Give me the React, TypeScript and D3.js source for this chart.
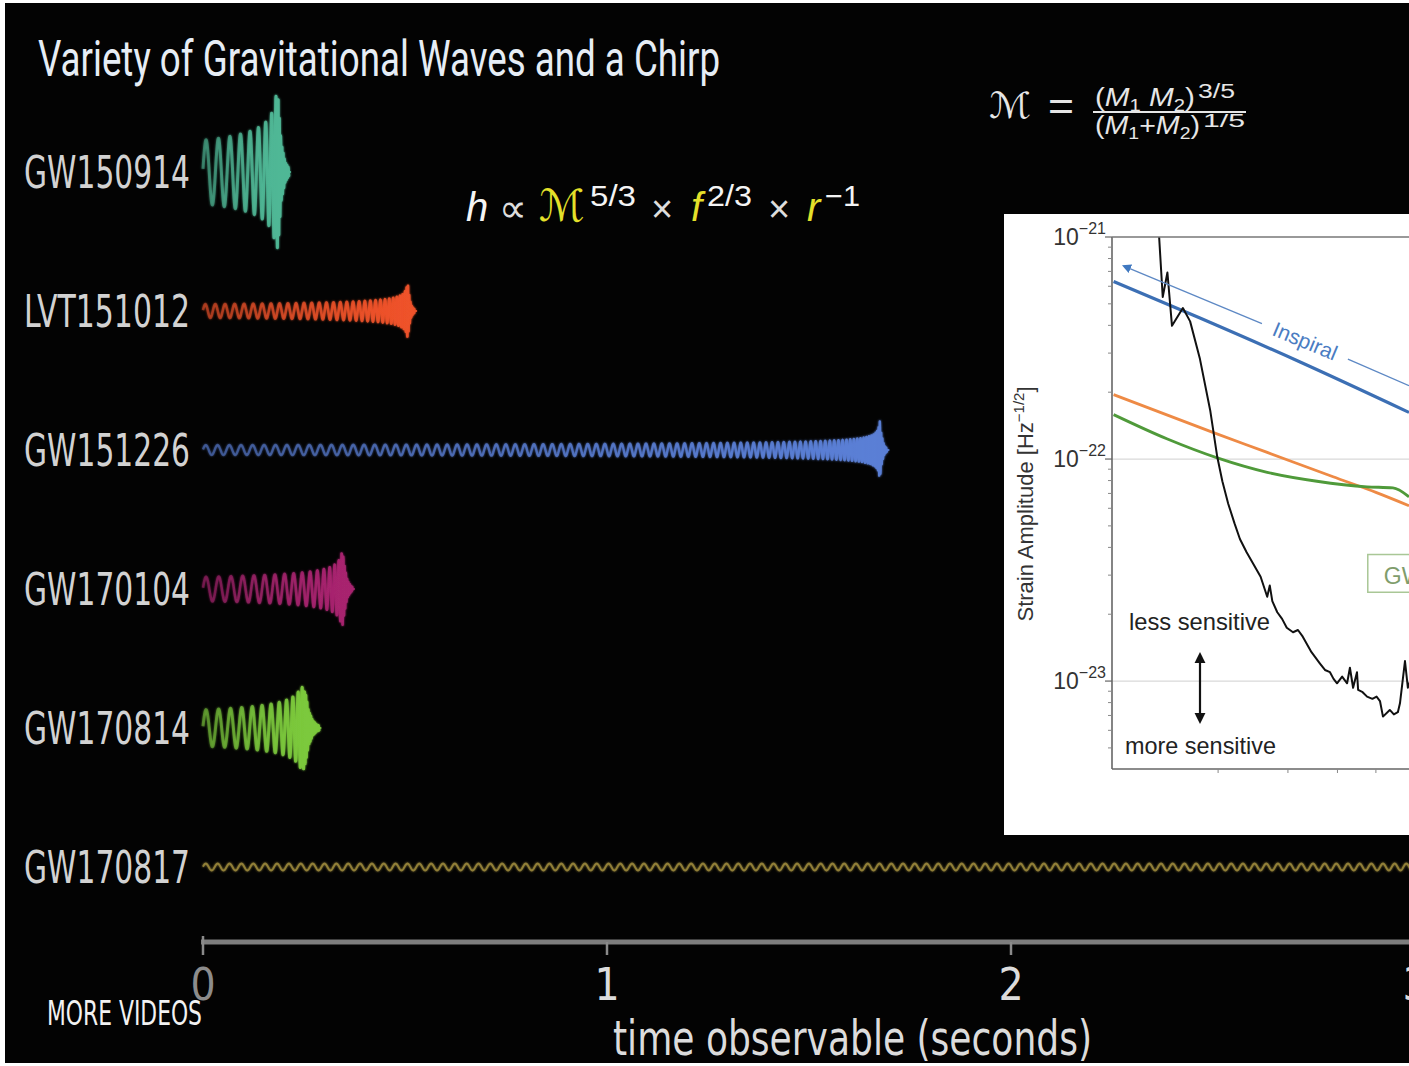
import React from "react";
import * as d3 from "d3";

const W = 1409;
const H = 1066;

// gravitational wave events (rows)
const eventNames = ["GW150914", "LVT151012", "GW151226", "GW170104", "GW170814", "GW170817"];
const mergerTime = [0.186, 0.507, 1.676, 0.347, 0.252, 60]; // seconds after start of observable signal
const startFreq = [31, 40, 34, 31, 31, 34]; // Hz at t = 0
const startAmp = [0.42, 0.09, 0.065, 0.16, 0.24, 0.045];
const peakAmp = [1.0, 0.37, 0.39, 0.48, 0.54, 0.045];
const ringTime = [0.009, 0.006, 0.006, 0.008, 0.012, 0.01];
const waveColor = ["#4fb896", "#ef5229", "#5a7fd6", "#a8246f", "#7cc93c", "#a18d3d"];
const waveWidth = [3, 2.6, 2.4, 2.6, 3, 2];

const timeTicks = [0, 1, 2, 3];

// inset: detector noise vs source curves (frequency Hz, log10 strain)
const noiseFreq = [13.9, 14.2, 14.5, 14.9, 15.3, 16.3, 17.0, 18.0, 19.1, 19.9, 20.5, 21.2, 22.0, 22.7, 23.6, 24.5, 25.6, 26.6, 27.0, 27.4, 28.2, 29.0, 29.8, 30.9, 31.8, 32.7, 34.4, 36.1, 37.2, 38.3, 39.1, 39.9, 41.1, 42.3, 43.0, 43.8, 44.8, 45.1, 46.3, 47.5, 49.0, 50.2, 51.2, 52.1, 54.2, 55.5, 56.8, 57.5, 59.2, 60.2, 61];
const noiseLogH = [-20.9, -21.0, -21.27, -21.16, -21.4, -21.32, -21.38, -21.55, -21.78, -21.99, -22.1, -22.2, -22.29, -22.36, -22.42, -22.47, -22.53, -22.62, -22.57, -22.64, -22.69, -22.72, -22.76, -22.78, -22.77, -22.8, -22.87, -22.92, -22.95, -22.96, -22.99, -23.01, -22.98, -23.01, -22.94, -23.03, -22.96, -23.04, -23.05, -23.07, -23.08, -23.07, -23.09, -23.16, -23.13, -23.15, -23.14, -23.1, -22.91, -23.03, -23.0];
const inspiralFreq = [10.9, 18.0, 32.2, 60.6];
const inspiralLogH = [-21.2, -21.365, -21.563, -21.79];
const orangeFreq = [10.9, 19.4, 26.6, 39.0, 50, 60.6];
const orangeLogH = [-21.71, -21.88, -21.97, -22.08, -22.15, -22.21];
const greenFreq = [10.9, 14.9, 19.9, 26.6, 35.5, 47.5, 55.2, 60.6];
const greenLogH = [-21.8, -21.91, -21.995, -22.06, -22.1, -22.125, -22.13, -22.17];
const arrowFreq = [11.9, 25.8, 42.5, 60.6];
const arrowLogH = [-21.14, -21.39, -21.55, -21.67];
const strainTicks = [-21, -22, -23];
const freqTicks = [20, 30, 40, 50];

const condensed = "'DejaVu Sans Condensed', 'DejaVu Sans', sans-serif";
const sans = "'Liberation Sans', Arial, sans-serif";

function chirp(i: number, tMax: number) {
  const T = mergerTime[i];
  const f0 = startFreq[i];
  const dt = 0.2 / 404;
  const pts: [number, number][] = [];
  let phase = 0;
  let fLast = f0;
  for (let t = 0; t <= tMax; t += dt) {
    let a: number;
    if (t < T) {
      const tau = Math.max(T - t, 1e-5);
      fLast = Math.min(320, f0 * Math.pow(tau / T, -3 / 8));
      a = Math.min(peakAmp[i], startAmp[i] * Math.pow(tau / T, -1 / 4));
    } else {
      a = peakAmp[i] * Math.exp(-(t - T) / ringTime[i]);
    }
    phase += 2 * Math.PI * fLast * dt;
    pts.push([t, a * Math.sin(phase)]);
  }
  return pts;
}

export default function App() {
  const tScale = d3.scaleLinear().domain([0, 3]).range([203, 1415]);
  const row = d3.scalePoint<string>().domain(eventNames).range([172, 867]);
  const amp = d3.scaleLinear().domain([-1, 1]).range([76, -76]);

  const fx = d3.scaleLog().domain([10.8, 60.6]).range([1112, 1409]);
  const hy = d3.scaleLog().domain([1e-21, Math.pow(10, -23.396)]).range([237, 769]);
  const curve = (fs: number[], hs: number[], smooth = false) =>
    d3.line<number>()
      .x((d, k) => fx(fs[k]))
      .y((d) => hy(Math.pow(10, d)))
      .curve(smooth ? d3.curveMonotoneX : d3.curveLinear)(hs) || "";

  const minorTicks: number[] = [];
  for (let d = -24; d <= -22; d++) {
    for (let m = 2; m <= 9; m++) {
      const v = m * Math.pow(10, d);
      if (v < 1e-21 && v > Math.pow(10, -23.396)) minorTicks.push(v);
    }
  }

  // inspiral label angle along arrow
  const ax0 = fx(arrowFreq[0]), ay0 = hy(Math.pow(10, arrowLogH[0]));
  const ax1 = fx(arrowFreq[1]), ay1 = hy(Math.pow(10, arrowLogH[1]));
  const angle = (Math.atan2(ay1 - ay0, ax1 - ax0) * 180) / Math.PI;
  const lblX = (fx(arrowFreq[1]) + fx(arrowFreq[2])) / 2;
  const lblY = (hy(Math.pow(10, arrowLogH[1])) + hy(Math.pow(10, arrowLogH[2]))) / 2;

  return (
    <div style={{ position: "absolute", left: 0, top: 0 }}>
      <svg width={W} height={H} style={{ display: "block" }}>
        <defs>
          <filter id="glow" x="-5%" y="-50%" width="110%" height="200%">
            <feGaussianBlur stdDeviation="1.3" result="b" />
            <feMerge>
              <feMergeNode in="b" />
              <feMergeNode in="SourceGraphic" />
            </feMerge>
          </filter>
          {eventNames.map((n, i) => (
            <linearGradient key={n} id={"grad" + i} gradientUnits="userSpaceOnUse"
              x1={tScale(0)} x2={tScale(Math.min(mergerTime[i], 3))} y1={0} y2={0}>
              <stop offset="0" stopColor={waveColor[i]} stopOpacity={i === 5 ? 0.8 : 0.5} />
              <stop offset="1" stopColor={waveColor[i]} stopOpacity={i === 5 ? 0.8 : 0.95} />
            </linearGradient>
          ))}
          <clipPath id="plotClip">
            <rect x={1112} y={237} width={297} height={532} />
          </clipPath>
          <marker id="blueHead" viewBox="0 0 10 10" refX="2" refY="5" markerWidth="7" markerHeight="7" orient="auto-start-reverse">
            <path d="M0,0 L10,5 L0,10 z" fill="#3f78c0" />
          </marker>
          <marker id="blackHead" viewBox="0 0 10 10" refX="1" refY="5" markerWidth="5" markerHeight="6" orient="auto-start-reverse">
            <path d="M0,0 L10,5 L0,10 z" fill="#111" />
          </marker>
        </defs>

        <rect x={0} y={0} width={W} height={H} fill="#ffffff" />
        <rect x={5} y={3} width={W - 5} height={1060} fill="#030303" />

        <text x={38} y={76} fill="#e6edf5" fontFamily="Roboto, sans-serif" fontSize={50}
          textLength={682} lengthAdjust="spacingAndGlyphs">
          Variety of Gravitational Waves and a Chirp
        </text>

        {/* waveforms */}
        {eventNames.map((n, i) => {
          const tMax = i === 5 ? 3.05 : mergerTime[i] + ringTime[i] * 3;
          const pts = chirp(i, tMax);
          const y0 = row(n) as number;
          const path = d3.line<[number, number]>()
            .x((d) => tScale(d[0]))
            .y((d) => y0 + amp(d[1]) - amp(0))(pts) || "";
          return (
            <g key={n}>
              <text x={190} y={y0 + 16} textAnchor="end" fill="#d2d2d2" fontFamily={condensed}
                fontStretch="condensed" fontSize={44} textLength={166} lengthAdjust="spacingAndGlyphs">
                {n}
              </text>
              <path d={path} fill="none" stroke={"url(#grad" + i + ")"} strokeWidth={waveWidth[i]}
                strokeLinejoin="round" filter="url(#glow)" />
              {i !== 5 && (
                <line x1={tScale(mergerTime[i])} x2={tScale(mergerTime[i] + ringTime[i] * 3) + 2}
                  y1={y0} y2={y0} stroke={waveColor[i]} strokeWidth={2} opacity={0.85} />
              )}
            </g>
          );
        })}

        {/* time axis */}
        <line x1={201} x2={W} y1={942} y2={942} stroke="#7e7e7e" strokeWidth={5} />
        {timeTicks.map((t) => (
          <g key={t}>
            <line x1={tScale(t)} x2={tScale(t)} y1={t === 0 ? 936 : 942} y2={955} stroke="#8a8a8a" strokeWidth={2.5} />
            <text x={tScale(t)} y={1000} textAnchor="middle" fill={t === 0 ? "#8c8c8c" : "#dcdcdc"}
              fontFamily={condensed} fontStretch="condensed" fontSize={44}>
              {t}
            </text>
          </g>
        ))}
        <text x={47} y={1025} fill="#f2f2f2" fontFamily={condensed} fontStretch="condensed" fontSize={34}
          textLength={155} lengthAdjust="spacingAndGlyphs">
          MORE VIDEOS
        </text>
        <text x={613} y={1055} fill="#dcdcdc" fontFamily={condensed} fontStretch="condensed" fontSize={48}
          textLength={479} lengthAdjust="spacingAndGlyphs">
          time observable (seconds)
        </text>

        {/* amplitude relation */}
        <g fontFamily={sans} fill="#f4f4f4">
          <text x={466} y={221} fontSize={40} fontStyle="italic">h</text>
          <text x={499} y={222} fontSize={40} fontFamily="'DejaVu Sans', sans-serif" fill="#dddddd"
            textLength={28} lengthAdjust="spacingAndGlyphs">∝</text>
          <text x={539} y={221} fontSize={44} fontFamily="'DejaVu Sans', serif" fontStyle="italic" fill="#e4e02a"
            textLength={46} lengthAdjust="spacingAndGlyphs">ℳ</text>
          <text x={590} y={206} fontSize={29} textLength={46} lengthAdjust="spacingAndGlyphs">5/3</text>
          <text x={651} y={222} fontSize={38} fill="#dddddd">×</text>
          <text x={691} y={221} fontSize={40} fontStyle="italic" fill="#e4e02a">f</text>
          <text x={707} y={206} fontSize={29} textLength={45} lengthAdjust="spacingAndGlyphs">2/3</text>
          <text x={768} y={222} fontSize={38} fill="#dddddd">×</text>
          <text x={807} y={221} fontSize={40} fontStyle="italic" fill="#e4e02a">r</text>
          <text x={825} y={206} fontSize={29} textLength={35} lengthAdjust="spacingAndGlyphs">−1</text>
        </g>

        {/* chirp mass */}
        <g fontFamily={sans} fill="#e6e6e6">
          <text x={989} y={118} fontSize={36} fontFamily="'DejaVu Sans', serif" fontStyle="italic"
            textLength={42} lengthAdjust="spacingAndGlyphs">ℳ</text>
          <text x={1048} y={120} fontSize={40} textLength={26} lengthAdjust="spacingAndGlyphs">=</text>
          <text x={1095} y={106} fontSize={25} textLength={100} lengthAdjust="spacingAndGlyphs">
            (<tspan fontStyle="italic">M</tspan>
            <tspan fontSize={17} dy={5}>1</tspan>
            <tspan fontStyle="italic" dy={-5}> M</tspan>
            <tspan fontSize={17} dy={5}>2</tspan>
            <tspan dy={-5}>)</tspan>
          </text>
          <text x={1198} y={98} fontSize={20} textLength={37} lengthAdjust="spacingAndGlyphs">3/5</text>
          <line x1={1093} x2={1246} y1={112} y2={112} stroke="#e6e6e6" strokeWidth={2} />
          <text x={1095} y={134} fontSize={25} textLength={105} lengthAdjust="spacingAndGlyphs">
            (<tspan fontStyle="italic">M</tspan>
            <tspan fontSize={17} dy={5}>1</tspan>
            <tspan dy={-5}>+</tspan>
            <tspan fontStyle="italic">M</tspan>
            <tspan fontSize={17} dy={5}>2</tspan>
            <tspan dy={-5}>)</tspan>
          </text>
          <text x={1203} y={127} fontSize={18} textLength={42} lengthAdjust="spacingAndGlyphs">1/5</text>
        </g>

        {/* inset sensitivity plot */}
        <rect x={1004} y={214} width={W - 1004} height={621} fill="#ffffff" />
        {strainTicks.slice(1).map((e) => (
          <line key={e} x1={1112} x2={W} y1={hy(Math.pow(10, e))} y2={hy(Math.pow(10, e))} stroke="#d9d9d9" strokeWidth={1.3} />
        ))}
        <g clipPath="url(#plotClip)" fill="none" strokeLinejoin="round">
          <path d={curve(orangeFreq, orangeLogH, true)} stroke="#ee8a45" strokeWidth={2.8} />
          <path d={curve(greenFreq, greenLogH, true)} stroke="#4f9a3a" strokeWidth={2.8} />
          <path d={curve(inspiralFreq, inspiralLogH, true)} stroke="#3c6fb4" strokeWidth={3.2} />
          <path d={curve(noiseFreq, noiseLogH)} stroke="#111111" strokeWidth={2} />
        </g>
        {/* inspiral arrow */}
        <line x1={fx(arrowFreq[1])} y1={hy(Math.pow(10, arrowLogH[1]))} x2={fx(arrowFreq[0])} y2={hy(Math.pow(10, arrowLogH[0]))}
          stroke="#5d88c4" strokeWidth={1.3} markerEnd="url(#blueHead)" />
        <line x1={fx(arrowFreq[2])} y1={hy(Math.pow(10, arrowLogH[2]))} x2={fx(arrowFreq[3])} y2={hy(Math.pow(10, arrowLogH[3]))}
          stroke="#5d88c4" strokeWidth={1.3} />
        <text x={lblX} y={lblY} transform={`rotate(${angle} ${lblX} ${lblY})`} textAnchor="middle" dy={7}
          fontFamily={sans} fontSize={21} fill="#4a7cc2">Inspiral</text>

        {/* GW label box (cut at edge) */}
        <rect x={fx(47.7)} y={hy(Math.pow(10, -22.43))} width={60} height={hy(Math.pow(10, -22.6)) - hy(Math.pow(10, -22.43))}
          fill="#ffffff" stroke="#a9c796" strokeWidth={1.5} />
        <text x={fx(47.7) + 16} y={hy(Math.pow(10, -22.43)) + 29} fontFamily={sans} fontSize={23} fill="#7f9d6c">GW</text>

        {/* spines */}
        <line x1={1112} x2={1112} y1={237} y2={769} stroke="#666" strokeWidth={1.6} />
        <line x1={1112} x2={W} y1={769} y2={769} stroke="#666" strokeWidth={1.6} />
        <line x1={1112} x2={W} y1={237} y2={237} stroke="#777" strokeWidth={1.3} />
        {minorTicks.map((v) => (
          <line key={v} x1={1108} x2={1112} y1={hy(v)} y2={hy(v)} stroke="#888" strokeWidth={1} />
        ))}
        {freqTicks.map((f) => (
          <line key={f} x1={fx(f)} x2={fx(f)} y1={769} y2={773} stroke="#888" strokeWidth={1} />
        ))}
        {strainTicks.map((e) => (
          <g key={e}>
            <line x1={1105} x2={1112} y1={hy(Math.pow(10, e))} y2={hy(Math.pow(10, e))} stroke="#666" strokeWidth={1.2} />
            <text x={1106} y={hy(Math.pow(10, e)) + 8} textAnchor="end" fontFamily={sans} fontSize={23} fill="#333">
              10<tspan fontSize={16} dy={-11}>{"−" + Math.abs(e)}</tspan>
            </text>
          </g>
        ))}
        <text transform="translate(1033 504) rotate(-90)" textAnchor="middle" fontFamily={sans} fontSize={22} fill="#333">
          Strain Amplitude [Hz<tspan fontSize={15} dy={-9}>−1/2</tspan><tspan dy={9}>]</tspan>
        </text>

        <text x={1129} y={630} fontFamily={sans} fontSize={24} fill="#222" textLength={141} lengthAdjust="spacingAndGlyphs">less sensitive</text>
        <text x={1125} y={754} fontFamily={sans} fontSize={24} fill="#222" textLength={151} lengthAdjust="spacingAndGlyphs">more sensitive</text>
        <line x1={1200} x2={1200} y1={662} y2={714} stroke="#111" strokeWidth={2.2}
          markerStart="url(#blackHead)" markerEnd="url(#blackHead)" />
      </svg>
    </div>
  );
}
